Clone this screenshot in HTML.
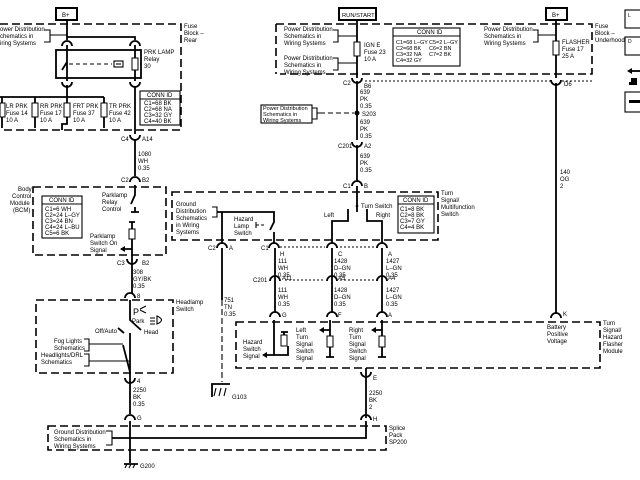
<!DOCTYPE html>
<html><head><meta charset="utf-8"><style>
html,body{margin:0;padding:0;background:#fff;}
svg{display:block;font-family:"Liberation Sans",Arial,sans-serif;font-size:6px;fill:#000}
.w{stroke:#000;stroke-width:1.8;fill:none}
.t{stroke:#000;stroke-width:1.1;fill:none}
.d{stroke:#000;stroke-width:1.6;fill:none;stroke-dasharray:8 4}
.dt{stroke:#000;stroke-width:1.1;fill:none;stroke-dasharray:2 2}
.c{stroke:#000;stroke-width:1.8;fill:none}
text{stroke:none}
</style></head><body>
<svg width="640" height="480" viewBox="0 0 640 480">
<rect x="56" y="8" width="21" height="12" fill="none" stroke="#000" stroke-width="2"/>
<text x="62" y="17" font-size="6">B+</text>
<path class="d" d="M0 24 H181 V130 H0"/>
<text x="184" y="28">Fuse</text><text x="184" y="35">Block –</text><text x="184" y="42">Rear</text>
<text x="0" y="31">ower Distribution</text><text x="0" y="38">chematics in</text><text x="0" y="45">iring Systems</text>
<path class="t" d="M44 30 H50 V42 H44 M50 35 H67"/>
<path class="w" d="M67 20 V40 M67 37 H135 V40"/>
<path class="c" d="M62 46 A5 5 0 0 1 72 46 M130 46 A5 5 0 0 1 140 46"/>
<path class="w" d="M67 45 V71 M135 45 V81"/>
<rect x="56" y="50" width="85" height="28" class="w"/>
<path class="w" d="M62 70 L67 62"/>
<path class="t" d="M69 64 H112" stroke-dasharray="4 3"/>
<rect x="114" y="61" width="9" height="6" class="t"/><path class="t" d="M116 64 H121"/>
<rect x="132" y="58" width="6" height="12" fill="#fff" stroke="#000" stroke-width="1"/>
<path class="w" d="M67 71 V81"/>
<text x="144" y="54">PRK LAMP</text><text x="144" y="61">Relay</text><text x="144" y="68">30</text>
<path class="c" d="M62 82 A5 5 0 0 0 72 82 M130 82 A5 5 0 0 0 140 82"/>
<path class="w" d="M67 85 V118 M0 97 H104 M2 97 V128 M35 97 V128 M104 97 V128 M135 86 V134"/>
<rect x="0" y="103" width="5" height="14" fill="#fff" stroke="#000"/>
<rect x="32" y="103" width="6" height="14" fill="#fff" stroke="#000"/>
<rect x="64" y="103" width="6" height="14" fill="#fff" stroke="#000"/>
<rect x="101" y="103" width="6" height="14" fill="#fff" stroke="#000"/>
<path class="w" d="M67 117 V124 H62 V130"/>
<text x="6" y="108">LR PRK</text><text x="6" y="115">Fuse 14</text><text x="6" y="122">10 A</text>
<text x="40" y="108">RR PRK</text><text x="40" y="115">Fuse 17</text><text x="40" y="122">10 A</text>
<text x="73" y="108">FRT PRK</text><text x="73" y="115">Fuse 37</text><text x="73" y="122">10 A</text>
<text x="109" y="108">TR PRK</text><text x="109" y="115">Fuse 42</text><text x="109" y="122">10 A</text>
<rect x="140" y="91" width="40" height="34" class="t"/><path class="t" d="M140 99 H180"/>
<text x="147" y="97">CONN ID</text>
<text x="144" y="105">C1=68 BK</text><text x="144" y="111">C2=68 NA</text><text x="144" y="117">C3=32 GY</text><text x="144" y="123">C4=40 BK</text>
<text x="121" y="141">C4</text><text x="142" y="141">A14</text>
<path class="c" d="M130 135 A5 5 0 0 0 140 135"/>
<path class="w" d="M135 139 V176"/>
<text x="138" y="156">1080</text><text x="138" y="163">WH</text><text x="138" y="170">0.35</text>
<text x="121" y="182">C2</text><text x="142" y="182">B2</text>
<path class="c" d="M130 182 A5 5 0 0 1 140 182"/>
<path class="d" d="M33 187 H166 V255 H33 Z"/>
<text x="18" y="191">Body</text><text x="12" y="198">Control</text><text x="10" y="205">Module</text><text x="13" y="212">(BCM)</text>
<rect x="42" y="196" width="40" height="42" class="t"/><path class="t" d="M42 204 H82"/>
<text x="49" y="202">CONN ID</text>
<text x="45" y="211">C1=6 WH</text><text x="45" y="217">C2=24 L–GY</text><text x="45" y="223">C3=24 BN</text><text x="45" y="229">C4=24 L–BU</text><text x="45" y="235">C5=6 BK</text>
<text x="102" y="197">Parklamp</text><text x="102" y="204">Relay</text><text x="102" y="211">Control</text>
<path class="w" d="M135 185 V195 L131 204 M135 207 V212 M131 212 H139"/>
<path class="w" d="M129 222 H135 M132 222 V229 M132 239 V262 M121 249 H132"/>
<path d="M120 249 L125 246 V252Z"/>
<rect x="129" y="229" width="6" height="10" fill="#fff" stroke="#000"/>
<text x="90" y="238">Parklamp</text><text x="90" y="245">Switch On</text><text x="90" y="252">Signal</text>
<text x="117" y="265">C3</text><text x="142" y="265">B2</text>
<path class="c" d="M127 259 A5 5 0 0 0 137 259"/>
<path class="w" d="M132 262 V293"/>
<text x="133" y="274">308</text><text x="133" y="281">GY/BK</text><text x="133" y="288">0.35</text>
<path class="c" d="M125 298 A5 5 0 0 1 135 298"/><text x="137" y="298">8</text>
<path class="d" d="M36 300 H173 V373 H36 Z"/>
<text x="176" y="304">Headlamp</text><text x="176" y="311">Switch</text>
<path class="w" d="M130 300 V320 L141 330 M130 372 V384"/>
<text x="133" y="315" font-size="9">P</text><path class="t" d="M140 309 L146 306 M140 310 L146 313"/>
<text x="132" y="323">Park</text><text x="144" y="334">Head</text>
<path class="t" d="M150 318 H155 M150 321 H155 M150 324 H155"/><path class="t" d="M157 316 Q166 320 157 324 Z"/>
<text x="95" y="333">Off/Auto</text>
<path class="w" d="M118 328 L124 333 M130 333 V372 L123 345"/>
<text x="54" y="343">Fog Lights</text><text x="54" y="350">Schematics</text>
<path class="t" d="M84 339 H89 V351 H84 M89 344 H123"/>
<text x="41" y="357">Headlights/DRL</text><text x="41" y="364">Schematics</text>
<path class="t" d="M84 354 H89 V366 H84 M89 361 H130"/>
<path class="c" d="M125 378 A5 5 0 0 0 135 378"/><text x="137" y="383">4</text>
<path class="w" d="M130 381 V414"/>
<text x="133" y="392">2250</text><text x="133" y="399">BK</text><text x="133" y="406">0.35</text>
<path class="c" d="M125 420 A5 5 0 0 1 135 420"/><text x="137" y="420">G</text>
<path class="d" d="M48 426 H386 V450 H48 Z"/>
<text x="389" y="430">Splice</text><text x="389" y="437">Pack</text><text x="389" y="444">SP200</text>
<text x="54" y="434">Ground Distribution</text><text x="54" y="441">Schematics in</text><text x="54" y="448">Wiring Systems</text>
<path class="t" d="M106 431 H112 V445 H106"/>
<path class="w" d="M112 438 H366 V421 M130 421 V463 M124 464 H138"/>
<path class="t" d="M125 468 L127 464 M129 468 L131 464 M133 468 L135 464"/>
<text x="140" y="468">G200</text>
<path class="c" d="M361 420 A5 5 0 0 1 371 420"/><text x="373" y="421">H</text>
<rect x="339" y="8" width="37" height="12" fill="none" stroke="#000" stroke-width="2"/>
<text x="342" y="17" font-size="5.8">RUN/START</text>
<path class="d" d="M276 24 H592 V74 H280 M276 24 V74"/>
<text x="284" y="31">Power Distribution</text><text x="284" y="38">Schematics in</text><text x="284" y="45">Wiring Systems</text>
<path class="t" d="M333 30 H338 V42 H333 M338 36 H357"/>
<text x="284" y="60">Power Distribution</text><text x="284" y="67">Schematics in</text><text x="284" y="74">Wiring Systems</text>
<path class="t" d="M333 58 H338 V70 H333 M338 63 H357"/>
<path class="w" d="M357 20 V78"/>
<rect x="354" y="42" width="6" height="14" fill="#fff" stroke="#000"/>
<text x="364" y="47">IGN E</text><text x="364" y="54">Fuse 23</text><text x="364" y="61">10 A</text>
<rect x="393" y="28" width="67" height="38" class="t"/><path class="t" d="M393 36 H460"/>
<text x="417" y="34">CONN ID</text>
<text x="396" y="44" font-size="5.5">C1=68 L–GY</text><text x="429" y="44" font-size="5.5">C5=2 L–GY</text>
<text x="396" y="50" font-size="5.5">C2=68 BK</text><text x="429" y="50" font-size="5.5">C6=2 BN</text>
<text x="396" y="56" font-size="5.5">C3=32 NA</text><text x="429" y="56" font-size="5.5">C7=2 BK</text>
<text x="396" y="62" font-size="5.5">C4=32 GY</text>
<path class="dt" d="M365 81 H552 M562 81 H592"/>
<text x="343" y="85">C2</text><text x="364" y="88">B6</text>
<path class="c" d="M352 78 A5 5 0 0 0 362 78"/>
<path class="w" d="M357 81 V140"/>
<text x="360" y="94">639</text><text x="360" y="101">PK</text><text x="360" y="108">0.35</text>
<circle cx="357" cy="113" r="2.5"/>
<path class="t" d="M320 113 H354" stroke-dasharray="5 3"/>
<text x="362" y="116">S203</text>
<rect x="261" y="105" width="51" height="18" class="t"/>
<text x="263" y="110" font-size="5.5">Power Distribution</text><text x="263" y="116" font-size="5.5">Schematics in</text><text x="263" y="122" font-size="5.5">Wiring Systems</text>
<path class="t" d="M312 108 H317 V119 H312 M317 113 H320"/>
<text x="360" y="124">639</text><text x="360" y="131">PK</text><text x="360" y="138">0.35</text>
<text x="338" y="148">C201</text><text x="364" y="148">A2</text>
<path class="c" d="M352 142 A5 5 0 0 0 362 142"/>
<path class="w" d="M357 145 V182"/>
<text x="360" y="158">639</text><text x="360" y="165">PK</text><text x="360" y="172">0.35</text>
<text x="343" y="188">C1</text><text x="364" y="188">B</text>
<path class="c" d="M352 186 A5 5 0 0 1 362 186"/>
<path class="d" d="M172 192 H438 V240 H172 Z"/>
<text x="441" y="195">Turn</text><text x="441" y="202">Signal/</text><text x="441" y="209">Multifunction</text><text x="441" y="216">Switch</text>
<rect x="398" y="196" width="36" height="37" class="t"/><path class="t" d="M398 204 H434"/>
<text x="403" y="202">CONN ID</text>
<text x="400" y="211">C1=8 BK</text><text x="400" y="217">C2=8 BK</text><text x="400" y="223">C3=7 GY</text><text x="400" y="229">C4=4 BK</text>
<text x="176" y="206">Ground</text><text x="176" y="213">Distribution</text><text x="176" y="220">Schematics</text><text x="176" y="227">in Wiring</text><text x="176" y="234">Systems</text>
<path class="t" d="M212 207 H217 V217 H212"/>
<path class="w" d="M217 212 H274 V222 L270 230 M222 212 V244 M357 186 V212"/>
<path class="t" d="M256 225 H266" stroke-dasharray="3 2"/><path class="t" d="M256 222 V228"/>
<text x="234" y="221">Hazard</text><text x="234" y="228">Lamp</text><text x="234" y="235">Switch</text>
<circle cx="357" cy="206" r="1.3"/>
<text x="361" y="208">Turn Switch</text>
<text x="324" y="217">Left</text><text x="376" y="217">Right</text>
<path class="w" d="M348 209 V221 H332 V243 M367 209 V221 H382 V243 M274 232 V243"/>
<path class="dt" d="M280 247 H325 M336 247 H377"/>
<path class="c" d="M217 248 A5 5 0 0 1 227 248 M269 248 A5 5 0 0 1 279 248 M327 248 A5 5 0 0 1 337 248 M377 248 A5 5 0 0 1 387 248"/>
<text x="208" y="250">C2</text><text x="229" y="250">A</text>
<text x="261" y="250">C1</text><text x="280" y="256">H</text><text x="338" y="256">C</text><text x="388" y="256">A</text>
<path class="w" d="M222 248 V300 M275 248 V312 M332 248 V312 M382 248 V312"/>
<path class="t" d="M222 300 V382" stroke-dasharray="6 3" stroke-width="1.6"/>
<text x="278" y="263">111</text><text x="278" y="270">WH</text><text x="278" y="277">0.35</text>
<text x="334" y="263">1428</text><text x="334" y="270">D–GN</text><text x="334" y="277">0.35</text>
<text x="386" y="263">1427</text><text x="386" y="270">L–GN</text><text x="386" y="277">0.35</text>
<path class="dt" d="M285 280 H325 M340 280 H377"/>
<path class="c" d="M270 281 A5 5 0 0 1 280 281 M327 281 A5 5 0 0 1 337 281 M377 281 A5 5 0 0 1 387 281"/>
<text x="253" y="282">C201</text><text x="282" y="280">A11</text><text x="338" y="280">A5</text><text x="388" y="280">A4</text>
<text x="278" y="292">111</text><text x="278" y="299">WH</text><text x="278" y="306">0.35</text>
<text x="334" y="292">1428</text><text x="334" y="299">D–GN</text><text x="334" y="306">0.35</text>
<text x="386" y="292">1427</text><text x="386" y="299">L–GN</text><text x="386" y="306">0.35</text>
<text x="224" y="302">751</text><text x="224" y="309">TN</text><text x="224" y="316">0.35</text>
<path class="c" d="M270 317 A5 5 0 0 1 280 317 M327 317 A5 5 0 0 1 337 317 M377 317 A5 5 0 0 1 387 317"/>
<text x="282" y="317">G</text><text x="338" y="317">F</text><text x="388" y="317">A</text>
<path class="w" d="M212 397 V384 H230"/>
<path class="t" d="M214 396 L216 388 M219 396 L221 388 M224 396 L226 388"/>
<text x="232" y="399">G103</text>
<path class="d" d="M236 322 H600 V368 H236 Z"/>
<text x="603" y="325">Turn</text><text x="603" y="332">Signal/</text><text x="603" y="339">Hazard</text><text x="603" y="346">Flasher</text><text x="603" y="353">Module</text>
<path class="w" d="M274 320 V355 H288 V346 M281 332 H288 M284 332 V335 M264 355 H274"/>
<path d="M262 355 L267 352 V358Z"/>
<rect x="281" y="335" width="6" height="11" fill="#fff" stroke="#000"/>
<text x="243" y="344">Hazard</text><text x="243" y="351">Switch</text><text x="243" y="358">Signal</text>
<path class="w" d="M330 320 V357 M322 330 H330 M382 320 V357 M374 330 H382 M326 357 H334 M378 357 H386"/>
<path d="M319 330 L324 327 V333Z M371 330 L376 327 V333Z"/>
<rect x="327" y="336" width="6" height="11" fill="#fff" stroke="#000"/>
<rect x="379" y="336" width="6" height="11" fill="#fff" stroke="#000"/>
<text x="296" y="332">Left</text><text x="296" y="339">Turn</text><text x="296" y="346">Signal</text><text x="296" y="353">Switch</text><text x="296" y="360">Signal</text>
<text x="349" y="332">Right</text><text x="349" y="339">Turn</text><text x="349" y="346">Signal</text><text x="349" y="353">Switch</text><text x="349" y="360">Signal</text>
<path class="c" d="M361 372 A5 5 0 0 0 371 372"/><text x="373" y="380">E</text>
<path class="w" d="M366 368 V418"/>
<text x="369" y="395">2250</text><text x="369" y="402">BK</text><text x="369" y="409">2</text>
<rect x="546" y="8" width="21" height="12" fill="none" stroke="#000" stroke-width="2"/>
<text x="552" y="17" font-size="6">B+</text>
<text x="484" y="31">Power Distribution</text><text x="484" y="38">Schematics in</text><text x="484" y="45">Wiring Systems</text>
<path class="t" d="M533 30 H538 V42 H533 M538 35 H556"/>
<path class="w" d="M556 20 V78"/>
<rect x="553" y="41" width="6" height="14" fill="#fff" stroke="#000"/>
<text x="562" y="44">FLASHER</text><text x="562" y="51">Fuse 17</text><text x="562" y="58">25 A</text>
<text x="595" y="28">Fuse</text><text x="595" y="35">Block –</text><text x="595" y="42">Underhood</text>
<path class="c" d="M551 80 A5 5 0 0 0 561 80"/><text x="564" y="86">D6</text>
<path class="w" d="M556 83 V313"/>
<text x="560" y="174">140</text><text x="560" y="181">OG</text><text x="560" y="188">2</text>
<path class="c" d="M551 318 A5 5 0 0 1 561 318"/><text x="563" y="316">K</text>
<text x="547" y="329">Battery</text><text x="547" y="336">Positive</text><text x="547" y="343">Voltage</text>
<rect x="625" y="10" width="18" height="18" class="t"/><text x="628" y="17" font-size="5">L</text>
<rect x="625" y="37" width="18" height="18" class="t"/><text x="628" y="43" font-size="5">D</text>
<path class="w" d="M629 71 H640"/><path d="M627 71 L632 68 V74Z"/>
<path d="M631 78 h6 v4 h-6z M629 82 h8 v3 h-8z"/>
<rect x="625" y="92" width="18" height="20" class="t"/><rect x="629" y="100" width="11" height="3"/>
</svg>
</body></html>
